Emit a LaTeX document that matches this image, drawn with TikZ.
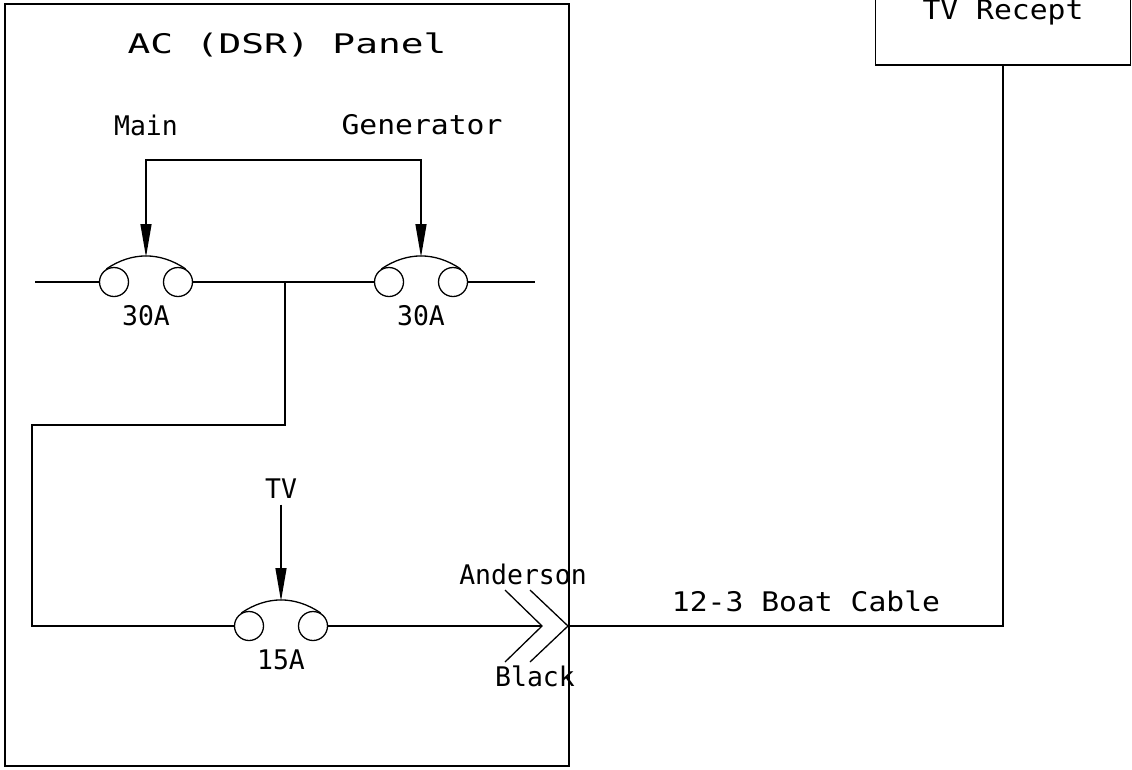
\documentclass[tikz,border=0pt]{standalone}
\usepackage{fontspec}
\newfontfamily\cadfont[FakeStretch=1.1]{DejaVu Sans Mono}
\newfontfamily\cadnarrow[FakeStretch=0.98]{DejaVu Sans Mono}
\newfontfamily\cadwide[FakeStretch=1.4]{DejaVu Sans Mono}
\usetikzlibrary{arrows.meta, calc}

\begin{document}
\begin{tikzpicture}[
    x=1pt, y=-1pt,
    line width=1.3pt,
    every node/.style={font=\cadfont\fontsize{27}{27}\selectfont, inner sep=0pt},
    narrow/.style={font=\cadnarrow\fontsize{27}{27}\selectfont},
    contact/.style={
        circle,
        draw,
        minimum size=29pt
    },
    feed/.style={
        -{Triangle[length=33pt, width=11pt]}
    }
]
\useasboundingbox (0,0) rectangle (1132,769);

% Panel enclosure and title
\node[draw, minimum width=564pt, minimum height=762pt] (panel) at (287,385) {};
\node[font=\cadwide\fontsize{27}{27}\selectfont] (title) at (287,45) {AC (DSR) Panel};

% Remote receptacle
\node[draw, minimum width=255pt, minimum height=106pt] (tvr) at (1003,12) {TV Recept};

% Breakers: two contacts, a curved bar and the rating
\foreach \n/\x/\y/\amp in {m/146/282/30A, g/421/282/30A, t/281/626/15A} {
    \node[contact] (\n-l) at (\x-32,\y) {};
    \node[contact] (\n-r) at (\x+32,\y) {};
    \coordinate (\n-top) at (\x,\y-25);
    \draw (\n-l.120) to[bend left=34] (\n-r.60);
    \node[narrow] (\n-amp) at (\x,\y+34) {\amp};
}

% Source labels
\node[narrow] (main) at (146,125) {Main};
\node (gen) at (422,125) {Generator};
\node[narrow] (tv) at (281,489) {TV};

% Source feeds
\coordinate (m-feed) at (146,160);
\coordinate (g-feed) at (421,160);
\draw[{Triangle[length=33pt, width=11pt]}-{Triangle[length=33pt, width=11pt]}]
    (m-top) -- (m-feed) -- (g-feed) -- (g-top);
\draw[feed, shorten <=5pt] (tv.south) -- (t-top);

% Main bus
\coordinate (bus-in) at (35,282);
\coordinate (bus-out) at (535,282);
\coordinate (jn) at (285,282);
\coordinate (bend) at (32,425);
\draw (bus-in) -- (m-l.west);
\draw (m-r.east) -- (g-l.west);
\draw (g-r.east) -- (bus-out);
\draw (jn) |- (bend) |- (t-l.west);

% Anderson connector
\coordinate (plug) at (542,626);
\coordinate (jack) at (568,626);
\draw (t-r.east) -- (plug);
\draw (505,590) -- (plug) -- (505,662);
\draw (530,590) -- (jack) -- (530,662);
\node[narrow] (anderson) at (523,574) {Anderson};
\node[narrow] (black) at (535,676) {Black};

% Boat cable to receptacle
\draw (jack) -| (tvr.south);
\node (boat) at (806,601) {12-3 Boat Cable};

\end{tikzpicture}
\end{document}
